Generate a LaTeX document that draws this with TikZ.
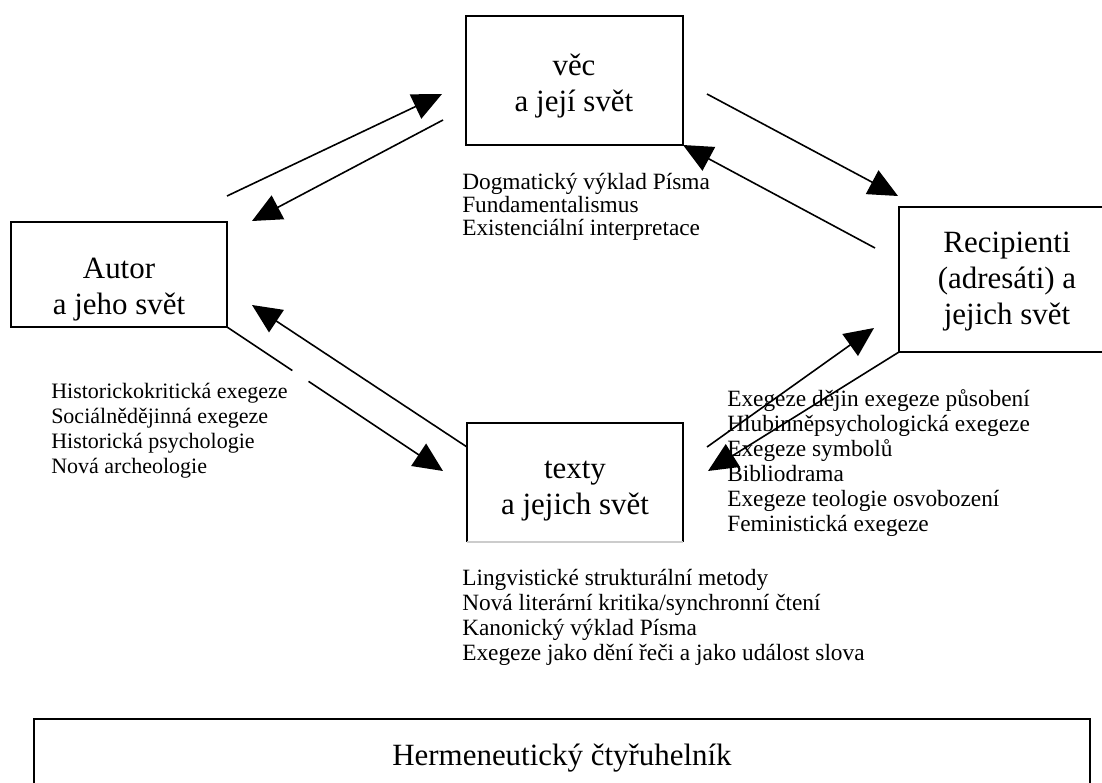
\documentclass[tikz,border=0pt]{standalone}
\usepackage{fontspec}
\setmainfont{Liberation Serif}
\usetikzlibrary{arrows.meta}
\tikzset{
  box/.style={draw, line width=1.2pt, inner sep=0pt},
  big/.style={font=\fontsize{23.2}{27}\selectfont, align=center, inner sep=0pt},
  lst/.style={font=\fontsize{17.5}{18.75}\selectfont, align=left, inner sep=0pt, anchor=north west},
  lstsmall/.style={lst, font=\fontsize{16.5}{18.75}\selectfont},
  lsttight/.style={lst, font=\fontsize{17.5}{17.2}\selectfont},
  arr/.style={line width=1.2pt, -{Triangle[length=22pt, width=20pt]}},
}
\begin{document}
\begin{tikzpicture}[x=0.75pt,y=-0.75pt]
\useasboundingbox (0,0) rectangle (1102,782);
% boxes
\draw[box] (466,16) rectangle (683,145);
\coordinate (vecse) at (683,145);
\draw[box] (11,222) rectangle (227,327);
\coordinate (autse) at (227,327);
\draw[box] (899,207) rectangle (1115,352);
\coordinate (recsw) at (899,352);
\draw[line width=1.2pt] (467,542) -- (467,423) -- (683,423) -- (683,542);
\draw[gray!40, line width=1pt] (467,542) -- (683,542);
\draw[box] (34,719) rectangle (1090,800);
% box labels
\node[big] (vec) at (574,86) {věc\\a její svět};
\node[big] (autor) at (119,290) {Autor\\a jeho svět};
\node[big] (rec) at (1007,282) {Recipienti\\(adresáti) a\\jejich svět};
\node[big] (texty) at (575,491) {texty\\a jejich svět};
\node[big] (herm) at (562,758) {Hermeneutický čtyřuhelník};
% lists
\node[lsttight] (l1) at (462,173) {Dogmatický výklad Písma\\Fundamentalismus\\Existenciální interpretace};
\node[lstsmall] (l2) at (51,383) {Historickokritická exegeze\\Sociálnědějinná exegeze\\Historická psychologie\\Nová archeologie};
\node[lst] (l3) at (727,389) {Exegeze dějin exegeze působení\\Hlubinněpsychologická exegeze\\Exegeze symbolů\\Bibliodrama\\Exegeze teologie osvobození\\Feministická exegeze};
\node[lst] (l4) at (462,569) {Lingvistické strukturální metody\\Nová literární kritika/synchronní čtení\\Kanonický výklad Písma\\Exegeze jako dění řeči a jako událost slova};
% arrow end points
\coordinate (a1s) at (227,196); \coordinate (a1e) at (442,94);
\coordinate (a2s) at (443,120); \coordinate (a2e) at (252,221);
\coordinate (a3s) at (707,94);  \coordinate (a3e) at (898,196);
\coordinate (a4s) at (875,248);
\coordinate (a5e) at (443,471);
\coordinate (a6s) at (467,447); \coordinate (a6e) at (252,305);
\coordinate (a7s) at (707,447); \coordinate (a7e) at (874,328);
\coordinate (a8e) at (708,471);
% arrows
\draw[arr] (a1s) -- (a1e);
\draw[arr] (a2s) -- (a2e);
\draw[arr] (a3s) -- (a3e);
\draw[arr] (a4s) -- (vecse);
\draw[arr, dash pattern=on 58.9pt off 14.6pt on 300pt] (autse) -- (a5e);
\draw[arr] (a6s) -- (a6e);
\draw[arr] (a7s) -- (a7e);
\draw[arr] (recsw) -- (a8e);
\end{tikzpicture}
\end{document}
